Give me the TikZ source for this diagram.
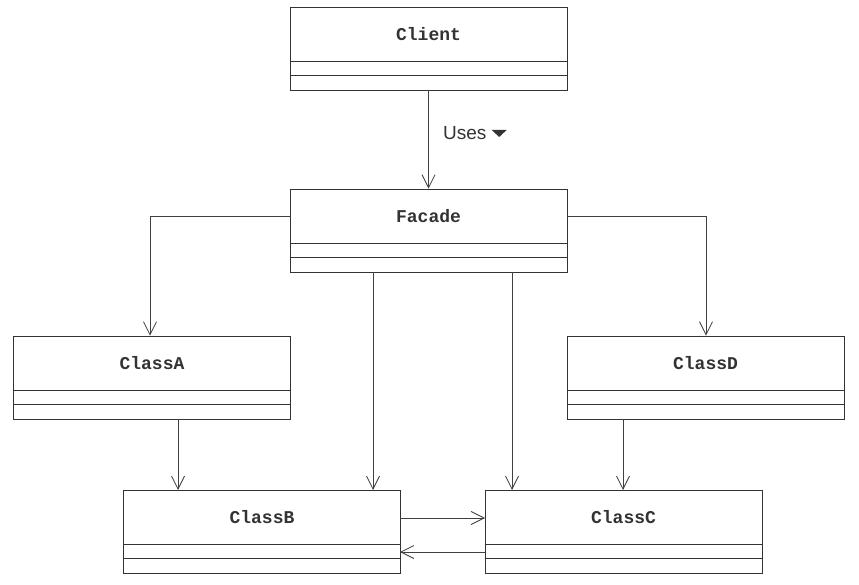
\documentclass[tikz,border=0pt]{standalone}
\usepackage{fontspec}
\setmainfont{Liberation Sans}
\newfontfamily\clsfont{Liberation Mono}
\usetikzlibrary{arrows.meta}
\begin{document}
\begin{tikzpicture}[x=1pt,y=-1pt,
  cls/.style={draw=black!80,line width=0.9pt,minimum width=277pt,minimum height=83pt,inner sep=0pt,fill=white},
  conn/.style={draw=black!75,line width=0.8pt,-{Straight Barb[length=13pt,width=13pt,line width=0.8pt]}},
  lbl/.style={font=\clsfont\bfseries\fontsize{18}{20}\selectfont,text=black!80}]
\useasboundingbox (0,0) rectangle (859,585);
% class boxes
\node[cls] (client) at (428.5,48.5) {};
\node[cls] (facade) at (428.5,230.5) {};
\node[cls] (classA) at (152,377.5) {};
\node[cls] (classD) at (705.5,377.5) {};
\node[cls] (classB) at (262,531.5) {};
\node[cls] (classC) at (623.5,531.5) {};
% compartments and names
\foreach \n/\t in {client/Client,facade/Facade,classA/ClassA,classD/ClassD,classB/ClassB,classC/ClassC}{
  \draw[black!80,line width=0.8pt] ([yshift=-55pt]\n.north west) -- ([yshift=-55pt]\n.north east);
  \draw[black!80,line width=0.8pt] ([yshift=-69pt]\n.north west) -- ([yshift=-69pt]\n.north east);
  \node[lbl] (\n-name) at ([yshift=-28pt]\n.north) {\t};
}
% connectors
\draw[conn] (client.south) -- (facade.north);
\node[anchor=west,font=\fontsize{19}{21}\selectfont,text=black!80,inner sep=0pt] (uses) at (443,133) {Uses};
\fill[black!80] ([xshift=5pt,yshift=3pt]uses.east) -- ++(15pt,0pt) -- ++(-7.5pt,-7pt) -- cycle;
\coordinate (fl) at (150,216);
\coordinate (fr) at (706,216);
\draw[conn] (facade.west |- fl) -- (fl) -- (fl |- classA.north);
\draw[conn] (facade.east |- fr) -- (fr) -- (fr |- classD.north);
\draw[conn] (373,272) -- (373,490);
\draw[conn] (512,272) -- (512,490);
\draw[conn] (178,419) -- (178,490);
\draw[conn] (623,419) -- (623,490);
\draw[conn] (400,518) -- (485,518);
\draw[conn] (485,552) -- (400,552);
\end{tikzpicture}
\end{document}
